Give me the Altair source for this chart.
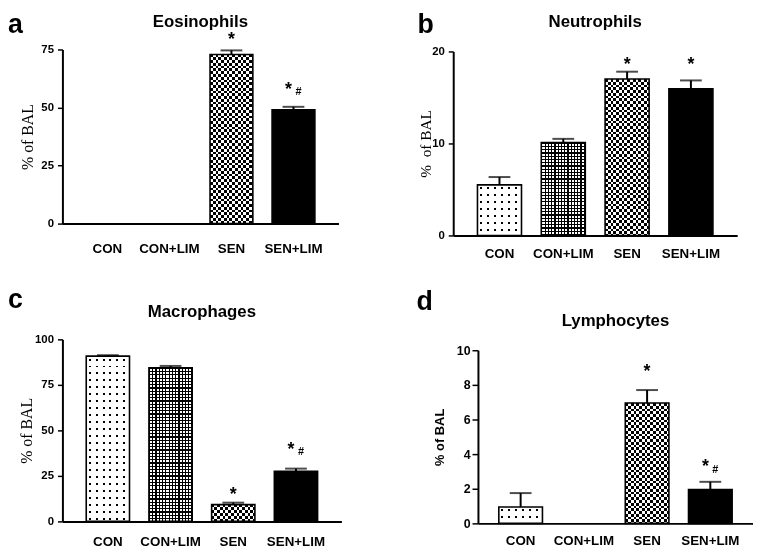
import altair as alt
import pandas as pd

# ---------------- data ----------------
groups = ["CON", "CON+LIM", "SEN", "SEN+LIM"]
patterns = ["dots", "grid", "checker", "solid"]

eos_mean = [0, 0, 72.8, 49.0]
eos_err = [0, 0, 1.8, 1.3]
eos_sig = ["", "", "*", "*#"]
eos_sig_y = [0, 0, 80.1, 58.8]

neu_mean = [5.5, 10.1, 17.0, 15.95]
neu_err = [0.85, 0.4, 0.8, 0.9]
neu_sig = ["", "", "*", "*"]
neu_sig_y = [0, 0, 18.8, 18.8]

mac_mean = [90.8, 84.4, 9.2, 27.5]
mac_err = [0.5, 1.0, 1.1, 1.5]
mac_sig = ["", "", "*", "*#"]
mac_sig_y = [0, 0, 16.1, 40.6]

lym_mean = [0.95, 0, 6.95, 1.95]
lym_err = [0.8, 0, 0.75, 0.45]
lym_sig = ["", "", "*", "*#"]
lym_sig_y = [0, 0, 8.86, 3.37]

ticks_a = [0, 25, 50, 75]
ticks_b = [0, 10, 20]
ticks_c = [0, 25, 50, 75, 100]
ticks_d = [0, 2, 4, 6, 8, 10]

# ---------------- style ----------------
SANS = "Liberation Sans, Arial, Helvetica, sans-serif"
SERIF = "Liberation Serif, Times New Roman, serif"
PI = 0.31

PAT = {
    "dots": {"col": (7.0, 2.5, 2.0, "#000000", "#ffffff"),
             "row": (7.0, 2.5, 2.0, "#000000", "#ffffff"), "blend": "lighten"},
    "grid": {"col": (3.3, 0.0, 1.2, "#000000", "#ffffff"),
             "row": (3.3, 0.0, 1.2, "#000000", "#ffffff"), "blend": "multiply"},
    "checker": {"col": (5.6, 0.0, 2.8, "#000000", "#ffffff"),
                "row": (5.6, 0.0, 2.8, "#000000", "#ffffff"), "blend": "difference"},
}


def stripes(length, spec, across_x):
    period, start, ink_len, ink, paper = spec
    L = max(length, 1e-6)
    stops = [{"offset": 0, "color": paper}]
    k = 0
    while True:
        s = k * period + start
        if s >= L:
            break
        e = min(s + ink_len, L)
        for off, col in ((s, paper), (s, ink), (e, ink), (e, paper)):
            stops.append({"offset": round(off / L, 5), "color": col})
        k += 1
    stops.append({"offset": 1, "color": paper})
    g = {"gradient": "linear", "stops": stops}
    if across_x:
        g.update({"x1": 0, "y1": 0, "x2": 1, "y2": 0})
    else:
        g.update({"x1": 0, "y1": 0, "x2": 0, "y2": 1})
    return g


# h = total panel height, rtop = pixel row of the top tick inside the panel
panels = [
    dict(letter="a", title="Eosinophils", mean=eos_mean, err=eos_err, sig=eos_sig, sig_y=eos_sig_y,
         ymax=75, ticks=ticks_a, w=279, po=0.38, h=176, rtop=0, L=55, T=39, lx=-55, ly=-17, ty=-23,
         ytitle="% of BAL", tfont=SERIF, tsize=16, tweight="normal", tx=-35,
         lsize=11.5, lpad=4, tick=5, xpad=18),
    dict(letter="b", title="Neutrophils", mean=neu_mean, err=neu_err, sig=neu_sig, sig_y=neu_sig_y,
         ymax=20, ticks=ticks_b, w=287, po=0.38, h=188, rtop=2, L=38, T=39, lx=-36, ly=-17, ty=-23,
         ytitle="%\u00a0\u00a0of BAL", tfont=SERIF, tsize=15.5, tweight="normal", tx=-28,
         lsize=11.5, lpad=4, tick=5, xpad=11),
    dict(letter="c", title="Macrophages", mean=mac_mean, err=mac_err, sig=mac_sig, sig_y=mac_sig_y,
         ymax=100, ticks=ticks_c, w=282, po=0.38, h=184, rtop=0, L=55, T=54, lx=-55, ly=-32, ty=-23,
         ytitle="% of BAL", tfont=SERIF, tsize=16, tweight="normal", tx=-36,
         lsize=11.5, lpad=4, tick=5, xpad=13),
    dict(letter="d", title="Lymphocytes", mean=lym_mean, err=lym_err, sig=lym_sig, sig_y=lym_sig_y,
         ymax=10, ticks=ticks_d, w=278, po=0.33, h=186, rtop=11, L=63, T=54, lx=-62, ly=-30, ty=-14,
         ytitle="% of BAL", tfont=SANS, tsize=13, tweight="bold", tx=-39,
         lsize=12.5, lpad=2, tick=6, xpad=10),
]


def make_panel(p):
    df = pd.DataFrame({
        "group": groups, "pattern": patterns, "mean": p["mean"], "err": p["err"],
        "sig": p["sig"], "sig_y": p["sig_y"],
    })
    df["top"] = df["mean"] + df["err"]
    df["star"] = ["*" if "*" in s else "" for s in df["sig"]]
    df["hash"] = ["#" if "#" in s else "" for s in df["sig"]]

    W, H, R = p["w"], p["h"], p["rtop"]
    PO = p["po"]
    n = len(groups)
    step = W / (n - PI + 2 * PO)
    bw = step * (1 - PI)
    pxu = (H - R) / p["ymax"]

    x = alt.X("group:N", sort=groups,
              scale=alt.Scale(domain=groups, paddingInner=PI, paddingOuter=PO),
              axis=alt.Axis(title=None, labelAngle=0, ticks=False, tickSize=0,
                            domainWidth=2, domainColor="black", labelColor="black",
                            labelFont=SANS, labelFontWeight="bold", labelFontSize=13.5,
                            labelPadding=p["xpad"]))
    yscale = alt.Scale(domain=[0, p["ymax"]], nice=False, zero=True, range=[H, R])
    yaxis = alt.Axis(values=p["ticks"], format="d", grid=False,
                     title=p["ytitle"], titleFont=p["tfont"], titleFontSize=p["tsize"],
                     titleFontWeight=p["tweight"], titleColor="black",
                     titleX=p["tx"], titleY=(H + R) / 2, titleAngle=270,
                     titleAlign="center", titleBaseline="middle",
                     tickSize=p["tick"], tickWidth=1.5, tickColor="black",
                     domainWidth=2, domainColor="black",
                     labelFont=SANS, labelFontWeight="bold", labelFontSize=p["lsize"],
                     labelColor="black", labelPadding=p["lpad"])

    def Y(field):
        return alt.Y(field + ":Q", scale=yscale, axis=yaxis)

    src = alt.Chart(df)
    layers = []
    for i, g in enumerate(groups):
        if p["mean"][i] <= 0:
            continue
        pat = patterns[i]
        sel = src.transform_filter(alt.datum.group == g).encode(x=x, y=Y("mean"))
        if pat == "solid":
            layers.append(sel.mark_bar(fill="#000000", strokeWidth=0))
        else:
            hpx = p["mean"][i] * pxu
            spec = PAT[pat]
            layers.append(sel.mark_bar(fill=stripes(bw, spec["col"], True), strokeWidth=0))
            layers.append(sel.mark_bar(fill=stripes(hpx, spec["row"], False), strokeWidth=0,
                                       blend=spec["blend"]))
    nz = src.transform_filter(alt.datum.mean > 0)
    layers.append(nz.mark_bar(fill="transparent", stroke="#000000", strokeWidth=1.6)
                  .encode(x=x, y=Y("mean")))
    layers.append(nz.mark_rule(color="#000000", strokeWidth=2)
                  .encode(x=x, y=Y("mean"), y2="top:Q"))
    layers.append(nz.mark_tick(orient="horizontal", color="#000000", size=22, thickness=2)
                  .encode(x=x, y=Y("top")))
    # significance marks
    layers.append(src.transform_filter((alt.datum.star == "*") & (alt.datum.hash == ""))
                  .mark_text(font=SANS, fontWeight="bold", fontSize=18, color="black",
                             baseline="alphabetic", dy=7.5)
                  .encode(x=x, y=Y("sig_y"), text="star:N"))
    layers.append(src.transform_filter(alt.datum.hash == "#")
                  .mark_text(font=SANS, fontWeight="bold", fontSize=18, color="black",
                             baseline="alphabetic", dy=7.5, dx=-5)
                  .encode(x=x, y=Y("sig_y"), text="star:N"))
    layers.append(src.transform_filter(alt.datum.hash == "#")
                  .mark_text(font=SANS, fontWeight="bold", fontSize=11, color="black",
                             baseline="alphabetic", dy=8, dx=5)
                  .encode(x=x, y=Y("sig_y"), text="hash:N"))

    one = alt.Data(values=[{"k": 0}])
    layers.append(alt.Chart(one).mark_text(text=p["letter"], font=SANS, fontWeight="bold",
                                           fontSize=27, align="left", baseline="alphabetic",
                                           color="black")
                  .encode(x=alt.value(p["lx"]), y=alt.value(p["ly"])))
    layers.append(alt.Chart(one).mark_text(text=p["title"], font=SANS, fontWeight="bold",
                                           fontSize=17, align="center", baseline="alphabetic",
                                           color="black")
                  .encode(x=alt.value(W / 2), y=alt.value(p["ty"])))
    # invisible layout anchor (top-left corner of the panel)
    layers.append(alt.Chart(one).mark_rect(fill="#ffffff", strokeWidth=0)
                  .encode(x=alt.value(-p["L"]), x2=alt.value(-p["L"] + 1),
                          y=alt.value(-p["T"]), y2=alt.value(-p["T"] + 1)))
    return alt.layer(*layers).properties(width=W, height=H)


pa, pb, pc, pd_ = [make_panel(p) for p in panels]
# flush bounds: horizontal gap measured between plot areas
row1 = alt.hconcat(pa, pb, spacing=116, bounds="flush")
row2 = alt.hconcat(pc, pd_, spacing=138, bounds="flush")
chart = alt.vconcat(row1, row2, spacing=26, padding=0).configure_view(strokeWidth=0)

chart.save("out.html", embed_options={"renderer": "svg", "actions": False})
